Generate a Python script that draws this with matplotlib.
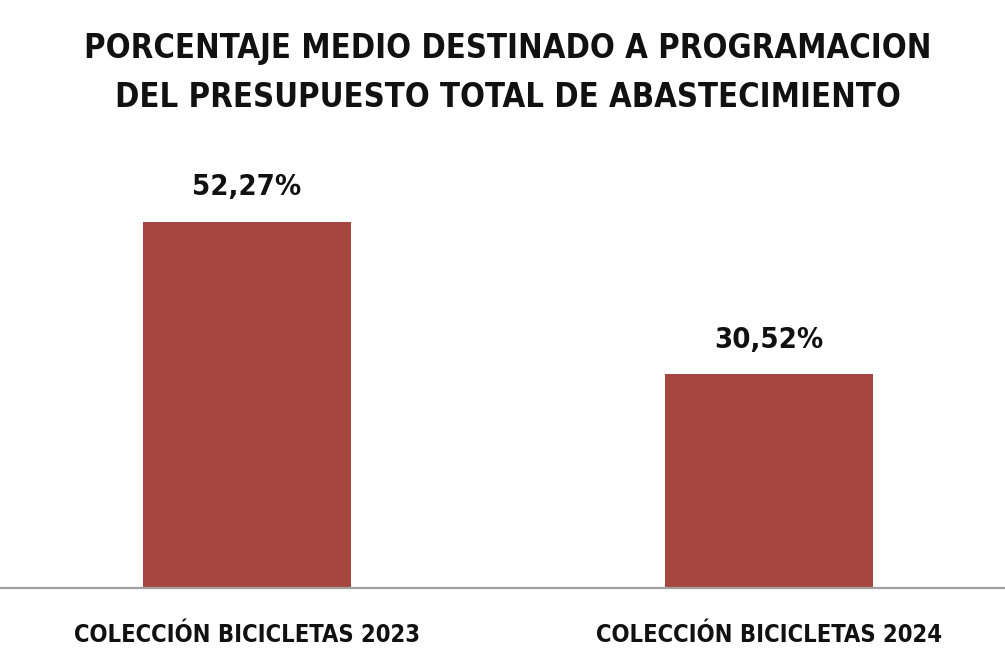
import matplotlib
matplotlib.use("Agg")
import matplotlib.pyplot as plt
from matplotlib import font_manager

categories = ["COLECCIÓN BICICLETAS 2023", "COLECCIÓN BICICLETAS 2024"]
values = [52.27, 30.52]
value_labels = ["52,27%", "30,52%"]
title = "PORCENTAJE MEDIO DESTINADO A PROGRAMACION\nDEL PRESUPUESTO TOTAL DE ABASTECIMIENTO"

BAR_COLOR = "#A6473F"

# pick a narrow/condensed font if one is installed
names = {f.name for f in font_manager.fontManager.ttflist}
if "Liberation Sans Narrow" in names:
    font = dict(family="Liberation Sans Narrow", fontweight="bold")
else:
    font = dict(family="DejaVu Sans", fontweight="bold", fontstretch="condensed")

fig = plt.figure(figsize=(10.05, 6.63), dpi=100)
ax = fig.add_axes([0, 75 / 663, 1, 420 / 663])

x = list(range(len(categories)))
ax.bar(x, values, width=208 / 522, color=BAR_COLOR)
ax.set_xlim(-247 / 522, (1005 - 247) / 522)
ax.set_ylim(0, 60)

for xi, v, lab in zip(x, values, value_labels):
    ax.annotate(lab, (xi, v), xytext=(0, 25), textcoords="offset points",
                ha="center", va="center", fontsize=21, color="#111111", **font)

ax.set_xticks(x)
ax.set_xticklabels(categories, fontsize=17, color="#111111", **font)
ax.tick_params(axis="x", length=0, pad=25)
ax.set_yticks([])
for side in ["top", "left", "right"]:
    ax.spines[side].set_visible(False)
ax.spines["bottom"].set_color("#A0A0A0")
ax.spines["bottom"].set_linewidth(1.6)

fig.text(0.505, 1 - 73 / 663, title, ha="center", va="center",
         fontsize=23.5, color="#111111", linespacing=1.6, **font)

fig.savefig("out.png", dpi=100, facecolor="white")
